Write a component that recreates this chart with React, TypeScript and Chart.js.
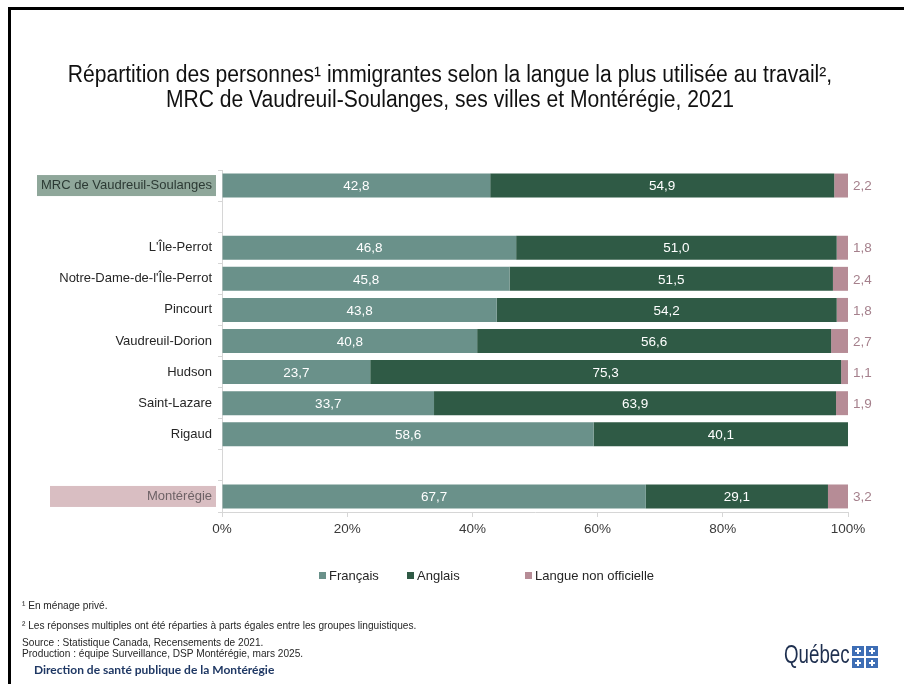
import React, { useEffect, useRef } from "react";
import { Chart, registerables } from "chart.js";

Chart.register(...registerables);

// ---------- data ----------
const categories = [
  "MRC de Vaudreuil-Soulanges",
  "",
  "L'Île-Perrot",
  "Notre-Dame-de-l'Île-Perrot",
  "Pincourt",
  "Vaudreuil-Dorion",
  "Hudson",
  "Saint-Lazare",
  "Rigaud",
  "",
  "Montérégie",
];
const seriesNames = ["Français", "Anglais", "Langue non officielle"];
const francais = [42.8, null, 46.8, 45.8, 43.8, 40.8, 23.7, 33.7, 58.6, null, 67.7];
const anglais = [54.9, null, 51.0, 51.5, 54.2, 56.6, 75.3, 63.9, 40.1, null, 29.1];
const nonOfficielle = [2.2, null, 1.8, 2.4, 1.8, 2.7, 1.1, 1.9, null, null, 3.2];
const xTickValues = [0, 20, 40, 60, 80, 100];

const titleLines = [
  "Répartition des personnes¹ immigrantes selon la langue la plus utilisée au travail²,",
  "MRC de Vaudreuil-Soulanges, ses villes et Montérégie, 2021",
];
const footnotes = [
  "¹ En ménage privé.",
  "² Les réponses multiples ont été réparties à parts égales entre les groupes linguistiques.",
  "Source : Statistique Canada, Recensements de 2021.",
  "Production : équipe Surveillance, DSP Montérégie, mars 2025.",
];
const orgName = "Direction de santé publique de la Montérégie";

// ---------- styles ----------
const COLORS = ["#6a918a", "#2f5a45", "#b68c96"];
const NON_OFF_LABEL = "#a5808c";
const SANS = "'Liberation Sans', Arial, sans-serif";

const raw = [francais, anglais, nonOfficielle];
// 100 % stacked (as the original): each row scaled to its total
const rowSums = categories.map((_, i) =>
  raw.reduce((s, arr) => s + (arr[i] == null ? 0 : (arr[i] as number)), 0)
);
const normalized = raw.map((arr) =>
  arr.map((v, i) => (v == null || rowSums[i] === 0 ? null : ((v as number) / rowSums[i]) * 100))
);

const fmt = (v: number) => v.toFixed(1).replace(".", ",");

const highlightBoxes = [
  { index: 0, left: 29, color: "#8fa79a" },
  { index: 10, left: 42, color: "#d9bec2" },
];

const boxPlugin = {
  id: "labelBoxes",
  beforeDraw(chart: any) {
    const y = chart.scales.y;
    const ctx = chart.ctx;
    ctx.save();
    highlightBoxes.forEach((h) => {
      const py = y.getPixelForValue(h.index);
      ctx.fillStyle = h.color;
      ctx.fillRect(h.left, py - 10.5, y.right - 6 - h.left, 21);
    });
    ctx.restore();
  },
};

const valueLabelPlugin = {
  id: "valueLabels",
  afterDatasetsDraw(chart: any) {
    const ctx = chart.ctx;
    ctx.save();
    ctx.font = `13.5px ${SANS}`;
    ctx.textBaseline = "middle";
    chart.data.datasets.forEach((_: any, di: number) => {
      const meta = chart.getDatasetMeta(di);
      meta.data.forEach((bar: any, i: number) => {
        const v = raw[di][i];
        if (v == null) return;
        const txt = fmt(v as number);
        if (di < 2) {
          ctx.fillStyle = "#ffffff";
          ctx.textAlign = "center";
          ctx.fillText(txt, (bar.x + bar.base) / 2, bar.y + 1);
        } else {
          ctx.fillStyle = NON_OFF_LABEL;
          ctx.textAlign = "left";
          ctx.fillText(txt, bar.x + 5, bar.y + 1);
        }
      });
    });
    ctx.restore();
  },
};

function QuebecLogo() {
  const sq = (k: number) => (
    <div key={k} style={{ width: 12, height: 10, background: "#3e6eb5", position: "relative" }}>
      <div style={{ position: "absolute", left: 5, top: 2, width: 2, height: 6, background: "#fff" }} />
      <div style={{ position: "absolute", left: 3, top: 4, width: 6, height: 2, background: "#fff" }} />
    </div>
  );
  return (
    <>
      <div
        style={{
          position: "absolute",
          left: 776,
          top: 631,
          font: `26px ${SANS}`,
          color: "#1e2f4f",
          lineHeight: "30px",
          transform: "scaleX(0.72)",
          transformOrigin: "left top",
          whiteSpace: "nowrap",
        }}
      >
        Québec
      </div>
      <div
        style={{
          position: "absolute",
          left: 844,
          top: 638,
          display: "grid",
          gridTemplateColumns: "12px 12px",
          gap: 2,
        }}
      >
        {[0, 1, 2, 3].map(sq)}
      </div>
    </>
  );
}

export default function App() {
  const ref = useRef<HTMLCanvasElement | null>(null);

  useEffect(() => {
    if (!ref.current) return;
    const chart = new Chart(ref.current, {
      type: "bar",
      data: {
        labels: categories,
        datasets: seriesNames.map((name, di) => ({
          label: name,
          data: normalized[di] as any,
          backgroundColor: COLORS[di],
          borderWidth: 0,
          barPercentage: 0.77,
          categoryPercentage: 1,
        })),
      },
      options: {
        indexAxis: "y",
        animation: false,
        responsive: false,
        layout: { padding: { left: 0, right: 48, top: 162, bottom: 134 } },
        plugins: {
          legend: { display: false },
          tooltip: { enabled: false },
          title: { display: false },
        },
        scales: {
          x: {
            stacked: true,
            min: 0,
            max: 100,
            afterBuildTicks: (s: any) => {
              s.ticks = xTickValues.map((v) => ({ value: v }));
            },
            ticks: {
              callback: (v: any) => v + "%",
              color: "#3a3a3a",
              font: { size: 13.5, family: SANS },
              padding: 4,
            },
            grid: { drawOnChartArea: false, drawTicks: true, tickLength: 5, color: "#d6d6d6" },
            border: { color: "#d6d6d6" },
            afterFit: (s: any) => {
              s.height = 30;
            },
          },
          y: {
            stacked: true,
            ticks: {
              autoSkip: false,
              color: (c: any) => (c.index === 0 ? "#2c3a34" : c.index === 10 ? "#6e6266" : "#262626"),
              font: { size: 13, family: SANS },
              padding: 6,
            },
            grid: { drawOnChartArea: false, drawTicks: true, tickLength: 4, color: "#d6d6d6", offset: true },
            border: { color: "#d6d6d6" },
            afterFit: (s: any) => {
              s.width = 214;
            },
          },
        },
      },
      plugins: [boxPlugin, valueLabelPlugin],
    });
    return () => chart.destroy();
  }, []);

  const legendLefts = [311, 399, 517];

  return (
    <div style={{ position: "relative", width: 888, height: 668, overflow: "hidden", background: "#fff" }}>
      <div
        style={{
          position: "fixed",
          left: 8,
          top: 7,
          right: -20,
          bottom: -20,
          borderTop: "3px solid #000",
          borderLeft: "3px solid #000",
          pointerEvents: "none",
        }}
      />
      <canvas ref={ref} width={888} height={668} style={{ position: "absolute", left: 0, top: 0 }} />
      <div
        style={{
          position: "absolute",
          left: 442,
          top: 54,
          transform: "translateX(-50%) scaleX(0.917)",
          textAlign: "center",
          font: `23px ${SANS}`,
          lineHeight: "25px",
          color: "#111",
          whiteSpace: "nowrap",
        }}
      >
        {titleLines.map((t, i) => (
          <div key={i}>{t}</div>
        ))}
      </div>
      {seriesNames.map((n, i) => (
        <div
          key={n}
          style={{
            position: "absolute",
            left: legendLefts[i],
            top: 559,
            height: 16,
            display: "flex",
            alignItems: "center",
            font: `13px ${SANS}`,
            color: "#262626",
            whiteSpace: "nowrap",
          }}
        >
          <span style={{ width: 7, height: 7, background: COLORS[i], display: "inline-block", marginRight: 3 }} />
          {n}
        </div>
      ))}
      <div
        style={{
          position: "absolute",
          left: 14,
          top: 590,
          font: `11.5px ${SANS}`,
          color: "#262626",
          transform: "scaleX(0.88)",
          transformOrigin: "left top",
          whiteSpace: "nowrap",
        }}
      >
        <div style={{ height: 20, lineHeight: "14px" }}>{footnotes[0]}</div>
        <div style={{ height: 19, lineHeight: "14px" }}>{footnotes[1]}</div>
        <div style={{ height: 11, lineHeight: "11px" }}>{footnotes[2]}</div>
        <div style={{ height: 11, lineHeight: "11px" }}>{footnotes[3]}</div>
      </div>
      <div
        style={{
          position: "absolute",
          left: 26,
          top: 654,
          font: `bold 12px Lato, ${SANS}`,
          color: "#1f3864",
          whiteSpace: "nowrap",
        }}
      >
        {orgName}
      </div>
      <QuebecLogo />
    </div>
  );
}
